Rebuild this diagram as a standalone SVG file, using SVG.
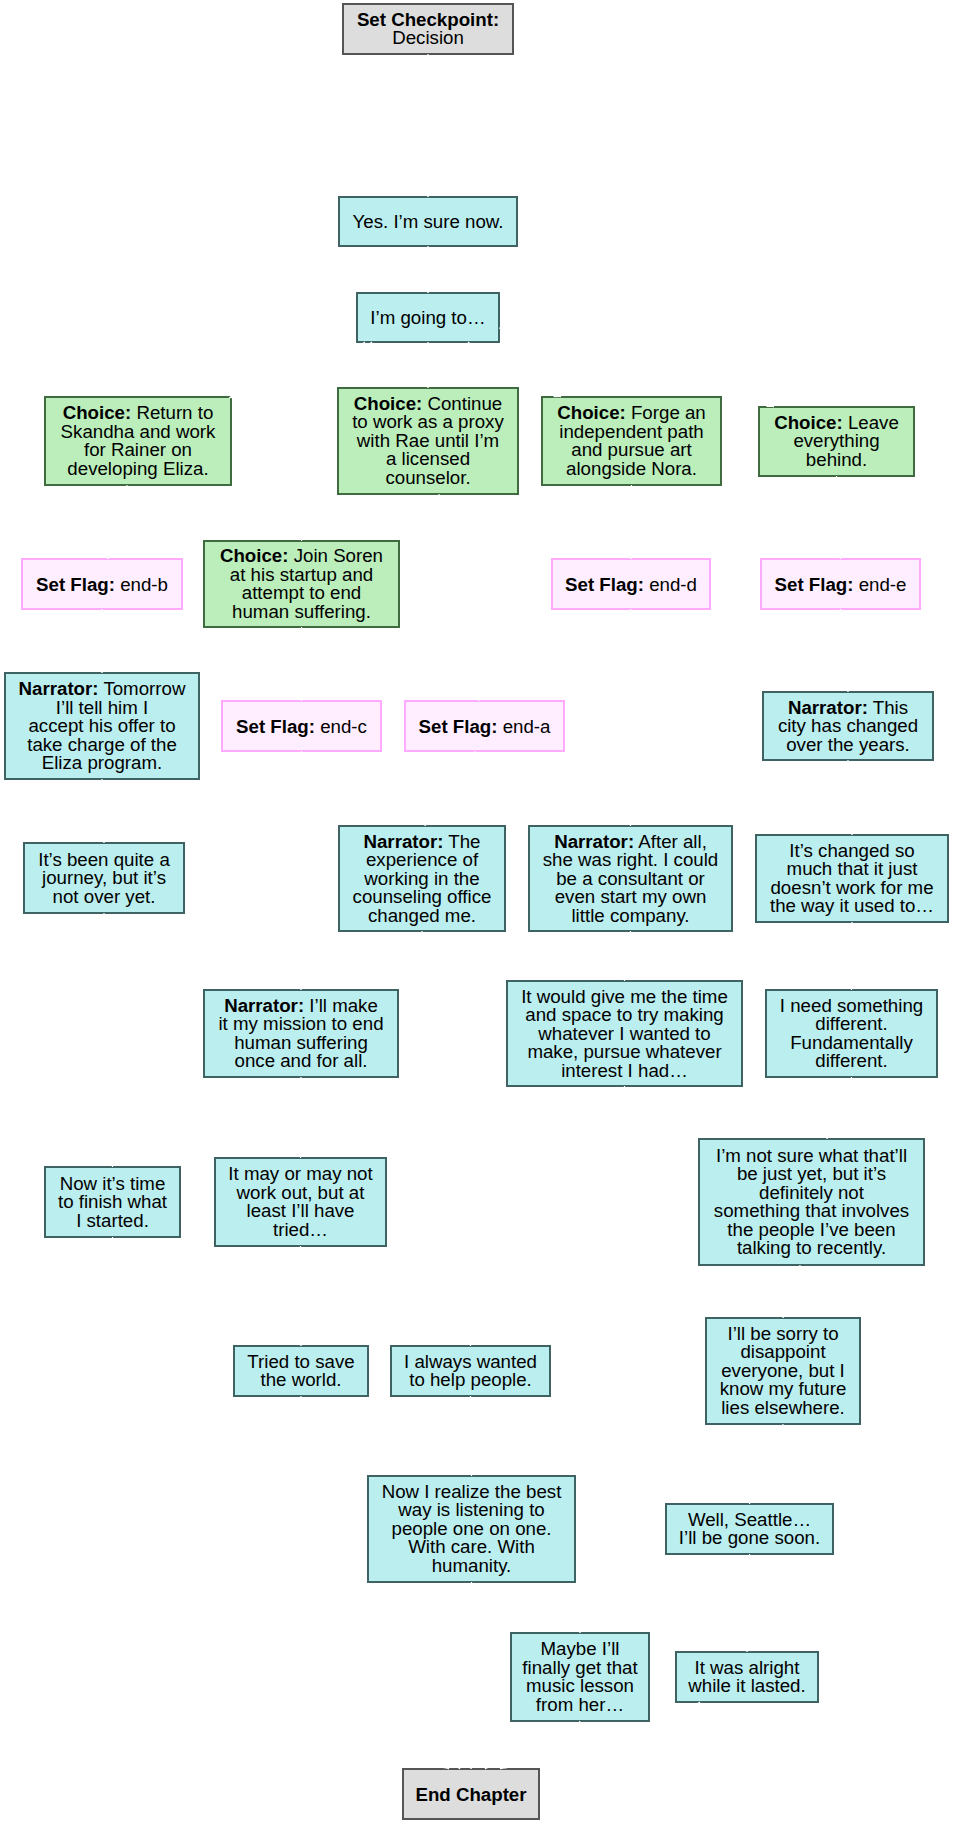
<svg xmlns="http://www.w3.org/2000/svg" width="953" height="1825" viewBox="0 0 953 1825">
<style>
.n rect{stroke-width:2}
.choice rect{fill:#bbeebb;stroke:#406a40}
.dlg rect{fill:#bbeeee;stroke:#3f6363}
.flag rect{fill:#ffeeff;stroke:#ffaaff}
.sys rect{fill:#dddddd;stroke:#555555}
text{font-family:"Liberation Sans",Arial,sans-serif;font-size:18.7px;fill:#000;text-anchor:middle}
.b{font-weight:bold}
.e{fill:none;stroke:#ffffff;stroke-width:1.2;marker-end:url(#arr)}
</style>
<defs>
<marker id="arr" viewBox="0 0 10 10" refX="10" refY="5" markerWidth="9" markerHeight="7" markerUnits="userSpaceOnUse" orient="auto">
<path d="M0,0 L10,5 L0,10 z" fill="#ffffff"/>
</marker>
</defs>
<rect width="953" height="1825" fill="#ffffff"/>

<g id="cp" class="n sys"><rect x="343" y="4" width="170" height="50"/><text><tspan x="428" y="25.5" class="b">Set Checkpoint:</tspan><tspan x="428" y="44">Decision</tspan></text></g>
<g id="yes" class="n dlg"><rect x="339" y="197" width="178" height="49"/><text><tspan x="428" y="228">Yes. I’m sure now.</tspan></text></g>
<g id="going" class="n dlg"><rect x="357" y="293" width="142" height="49"/><text><tspan x="428" y="324">I’m going to…</tspan></text></g>

<g id="return" class="n choice"><rect x="45" y="397" width="186" height="88"/><text><tspan x="138" y="419"><tspan class="b">Choice:</tspan> Return to</tspan><tspan x="138" y="437.5">Skandha and work</tspan><tspan x="138" y="456">for Rainer on</tspan><tspan x="138" y="474.5">developing Eliza.</tspan></text></g>
<g id="continue" class="n choice"><rect x="338" y="388" width="180" height="106"/><text><tspan x="428" y="409.5"><tspan class="b">Choice:</tspan> Continue</tspan><tspan x="428" y="428">to work as a proxy</tspan><tspan x="428" y="446.5">with Rae until I’m</tspan><tspan x="428" y="465">a licensed</tspan><tspan x="428" y="483.5">counselor.</tspan></text></g>
<g id="forge" class="n choice"><rect x="542" y="397" width="179" height="88"/><text><tspan x="631.5" y="419"><tspan class="b">Choice:</tspan> Forge an</tspan><tspan x="631.5" y="437.5">independent path</tspan><tspan x="631.5" y="456">and pursue art</tspan><tspan x="631.5" y="474.5">alongside Nora.</tspan></text></g>
<g id="leave" class="n choice"><rect x="759" y="407" width="155" height="69"/><text><tspan x="836.5" y="428.5"><tspan class="b">Choice:</tspan> Leave</tspan><tspan x="836.5" y="447">everything</tspan><tspan x="836.5" y="465.5">behind.</tspan></text></g>

<g id="endb" class="n flag"><rect x="22" y="559" width="160" height="50"/><text><tspan x="102" y="590.5"><tspan class="b">Set Flag:</tspan> end-b</tspan></text></g>
<g id="join" class="n choice"><rect x="204" y="541" width="195" height="86"/><text><tspan x="301.5" y="562"><tspan class="b">Choice:</tspan> Join Soren</tspan><tspan x="301.5" y="580.5">at his startup and</tspan><tspan x="301.5" y="599">attempt to end</tspan><tspan x="301.5" y="617.5">human suffering.</tspan></text></g>
<g id="endd" class="n flag"><rect x="552" y="559" width="158" height="50"/><text><tspan x="631" y="590.5"><tspan class="b">Set Flag:</tspan> end-d</tspan></text></g>
<g id="ende" class="n flag"><rect x="761" y="559" width="159" height="50"/><text><tspan x="840.5" y="590.5"><tspan class="b">Set Flag:</tspan> end-e</tspan></text></g>

<g id="tomorrow" class="n dlg"><rect x="5" y="673" width="194" height="106"/><text><tspan x="102" y="695"><tspan class="b">Narrator:</tspan> Tomorrow</tspan><tspan x="102" y="713.5">I’ll tell him I</tspan><tspan x="102" y="732">accept his offer to</tspan><tspan x="102" y="750.5">take charge of the</tspan><tspan x="102" y="769">Eliza program.</tspan></text></g>
<g id="endc" class="n flag"><rect x="222" y="701" width="159" height="50"/><text><tspan x="301.5" y="732.5"><tspan class="b">Set Flag:</tspan> end-c</tspan></text></g>
<g id="enda" class="n flag"><rect x="405" y="701" width="159" height="50"/><text><tspan x="484.5" y="732.5"><tspan class="b">Set Flag:</tspan> end-a</tspan></text></g>
<g id="city" class="n dlg"><rect x="763" y="692" width="170" height="68"/><text><tspan x="848" y="713.5"><tspan class="b">Narrator:</tspan> This</tspan><tspan x="848" y="732">city has changed</tspan><tspan x="848" y="750.5">over the years.</tspan></text></g>

<g id="journey" class="n dlg"><rect x="24" y="843" width="160" height="70"/><text><tspan x="104" y="865.5">It’s been quite a</tspan><tspan x="104" y="884">journey, but it’s</tspan><tspan x="104" y="902.5">not over yet.</tspan></text></g>
<g id="experience" class="n dlg"><rect x="339" y="826" width="166" height="105"/><text><tspan x="422" y="847.5"><tspan class="b">Narrator:</tspan> The</tspan><tspan x="422" y="866">experience of</tspan><tspan x="422" y="884.5">working in the</tspan><tspan x="422" y="903">counseling office</tspan><tspan x="422" y="921.5">changed me.</tspan></text></g>
<g id="afterall" class="n dlg"><rect x="529" y="826" width="203" height="105"/><text><tspan x="630.5" y="847.5"><tspan class="b">Narrator:</tspan> After all,</tspan><tspan x="630.5" y="866">she was right. I could</tspan><tspan x="630.5" y="884.5">be a consultant or</tspan><tspan x="630.5" y="903">even start my own</tspan><tspan x="630.5" y="921.5">little company.</tspan></text></g>
<g id="changed" class="n dlg"><rect x="756" y="835" width="192" height="87"/><text><tspan x="852" y="856.5">It’s changed so</tspan><tspan x="852" y="875">much that it just</tspan><tspan x="852" y="893.5">doesn’t work for me</tspan><tspan x="852" y="912">the way it used to…</tspan></text></g>

<g id="illmake" class="n dlg"><rect x="204" y="990" width="194" height="87"/><text><tspan x="301" y="1011.5"><tspan class="b">Narrator:</tspan> I’ll make</tspan><tspan x="301" y="1030">it my mission to end</tspan><tspan x="301" y="1048.5">human suffering</tspan><tspan x="301" y="1067">once and for all.</tspan></text></g>
<g id="wouldgive" class="n dlg"><rect x="507" y="981" width="235" height="105"/><text><tspan x="624.5" y="1002.5">It would give me the time</tspan><tspan x="624.5" y="1021">and space to try making</tspan><tspan x="624.5" y="1039.5">whatever I wanted to</tspan><tspan x="624.5" y="1058">make, pursue whatever</tspan><tspan x="624.5" y="1076.5">interest I had…</tspan></text></g>
<g id="need" class="n dlg"><rect x="766" y="990" width="171" height="87"/><text><tspan x="851.5" y="1011.5">I need something</tspan><tspan x="851.5" y="1030">different.</tspan><tspan x="851.5" y="1048.5">Fundamentally</tspan><tspan x="851.5" y="1067">different.</tspan></text></g>

<g id="nowtime" class="n dlg"><rect x="45" y="1167" width="135" height="70"/><text><tspan x="112.5" y="1189.5">Now it’s time</tspan><tspan x="112.5" y="1208">to finish what</tspan><tspan x="112.5" y="1226.5">I started.</tspan></text></g>
<g id="maynot" class="n dlg"><rect x="215" y="1158" width="171" height="88"/><text><tspan x="300.5" y="1180"><tspan>It may or may not</tspan></tspan><tspan x="300.5" y="1198.5">work out, but at</tspan><tspan x="300.5" y="1217">least I’ll have</tspan><tspan x="300.5" y="1235.5">tried…</tspan></text></g>
<g id="notsure" class="n dlg"><rect x="699" y="1139" width="225" height="126"/><text><tspan x="811.5" y="1161.5">I’m not sure what that’ll</tspan><tspan x="811.5" y="1180">be just yet, but it’s</tspan><tspan x="811.5" y="1198.5">definitely not</tspan><tspan x="811.5" y="1217">something that involves</tspan><tspan x="811.5" y="1235.5">the people I’ve been</tspan><tspan x="811.5" y="1254">talking to recently.</tspan></text></g>

<g id="tried" class="n dlg"><rect x="234" y="1346" width="134" height="50"/><text><tspan x="301" y="1367.5">Tried to save</tspan><tspan x="301" y="1386">the world.</tspan></text></g>
<g id="always" class="n dlg"><rect x="391" y="1346" width="159" height="50"/><text><tspan x="470.5" y="1367.5">I always wanted</tspan><tspan x="470.5" y="1386">to help people.</tspan></text></g>
<g id="sorry" class="n dlg"><rect x="706" y="1318" width="154" height="106"/><text><tspan x="783" y="1339.5">I’ll be sorry to</tspan><tspan x="783" y="1358">disappoint</tspan><tspan x="783" y="1376.5">everyone, but I</tspan><tspan x="783" y="1395">know my future</tspan><tspan x="783" y="1413.5">lies elsewhere.</tspan></text></g>

<g id="realize" class="n dlg"><rect x="368" y="1476" width="207" height="106"/><text><tspan x="471.5" y="1497.5">Now I realize the best</tspan><tspan x="471.5" y="1516">way is listening to</tspan><tspan x="471.5" y="1534.5">people one on one.</tspan><tspan x="471.5" y="1553">With care. With</tspan><tspan x="471.5" y="1571.5">humanity.</tspan></text></g>
<g id="seattle" class="n dlg"><rect x="666" y="1504" width="167" height="50"/><text><tspan x="749.5" y="1525.5">Well, Seattle…</tspan><tspan x="749.5" y="1544">I’ll be gone soon.</tspan></text></g>

<g id="maybe" class="n dlg"><rect x="511" y="1633" width="138" height="88"/><text><tspan x="580" y="1655">Maybe I’ll</tspan><tspan x="580" y="1673.5">finally get that</tspan><tspan x="580" y="1692">music lesson</tspan><tspan x="580" y="1710.5">from her…</tspan></text></g>
<g id="alright" class="n dlg"><rect x="676" y="1652" width="142" height="50"/><text><tspan x="747" y="1673.5">It was alright</tspan><tspan x="747" y="1692">while it lasted.</tspan></text></g>

<g id="end" class="n sys"><rect x="403" y="1769" width="136" height="50"/><text><tspan x="471" y="1800.5" class="b">End Chapter</tspan></text></g>

<g id="connectors">
<path class="e" d="M428,54 C428,120 428,140 428,197"/>
<path class="e" d="M428,246 C428,265 428,275 428,293"/>
<path class="e" d="M372,342 C340,370 260,385 229,398"/>
<path class="e" d="M428,342 C428,360 428,370 428,388"/>
<path class="e" d="M468,342 C500,370 535,385 561,397"/>
<path class="e" d="M499,328 C600,350 720,380 774,407"/>
<path class="e" d="M365,342 C315,372 301,430 301.5,541"/>
<path class="e" d="M127,485 C125,515 110,535 108,559"/>
<path class="e" d="M102,609 C102,635 102,650 102,673"/>
<path class="e" d="M301.5,627 C301.5,660 301.5,680 301.5,701"/>
<path class="e" d="M439,494 C445,600 475,660 479,701"/>
<path class="e" d="M631.5,485 C631.5,515 631,535 631,559"/>
<path class="e" d="M836.5,476 C837,510 840,535 840.5,559"/>
<path class="e" d="M102,779 C102,805 104,820 104,843"/>
<path class="e" d="M301.5,751 C301.5,850 301,930 301,990"/>
<path class="e" d="M475,751 C470,790 430,800 425,826"/>
<path class="e" d="M631,609 C631,700 630.5,780 630.5,826"/>
<path class="e" d="M840.5,609 C841,650 848,670 848,692"/>
<path class="e" d="M848,760 C848,800 852,815 852,835"/>
<path class="e" d="M104,913 C104,1050 112,1120 112.5,1167"/>
<path class="e" d="M301,1077 C301,1110 300.5,1130 300.5,1158"/>
<path class="e" d="M422,931 C430,1150 465,1250 470.5,1346"/>
<path class="e" d="M630.5,931 C630,955 625,965 624.5,981"/>
<path class="e" d="M852,922 C852,950 851.5,970 851.5,990"/>
<path class="e" d="M624.5,1086 C620,1350 585,1500 580,1633"/>
<path class="e" d="M851.5,1077 C850,1110 830,1120 827,1139"/>
<path class="e" d="M300.5,1246 C300.5,1290 301,1320 301,1346"/>
<path class="e" d="M800,1265 C798,1290 785,1300 783,1318"/>
<path class="e" d="M470.5,1396 C470.5,1430 471.5,1450 471.5,1476"/>
<path class="e" d="M783,1424 C780,1460 752,1480 749.5,1504"/>
<path class="e" d="M749.5,1554 C749.5,1600 747,1620 747,1652"/>
<path class="e" d="M112.5,1237 C120,1600 380,1720 449,1769"/>
<path class="e" d="M301,1396 C310,1650 420,1720 460,1769"/>
<path class="e" d="M471.5,1582 C471.5,1680 471,1740 471,1769"/>
<path class="e" d="M580,1721 C570,1745 500,1755 485,1769"/>
<path class="e" d="M700,1702 C650,1740 530,1750 500,1769"/>
</g>
</svg>
